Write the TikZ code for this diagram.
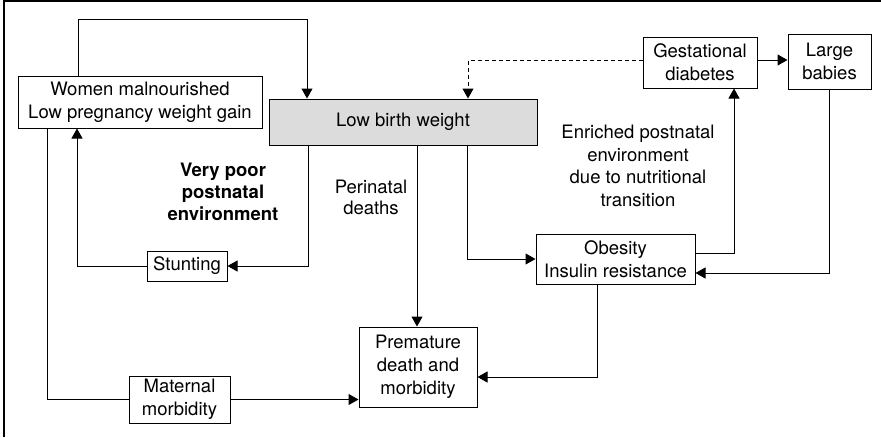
\documentclass[tikz,border=0pt]{standalone}
\usepackage{fontspec}
\setmainfont{TeX Gyre Heros}
\usetikzlibrary{arrows.meta}
\definecolor{lbwgray}{HTML}{DCDCDC}
\tikzset{
  txt/.style={align=center, font=\fontsize{18.5}{23}\selectfont},
  box/.style={txt, draw, inner sep=0pt},
  arr/.style={-{Triangle[length=10pt,width=11pt]}},
}
\begin{document}
\begin{tikzpicture}[x=1pt,y=-1pt,line width=1pt]
  \useasboundingbox (0,0) rectangle (881,437);
  % frame, top and left only
  \draw[line width=1.6pt] (4,437) -- (4,1) -- (881,1) ;
  % boxes
  \node[box,minimum width=244pt,minimum height=52pt] (women) at (140,102) {Women malnourished\\Low pregnancy weight gain};
  \node[box,fill=lbwgray,minimum width=268pt,minimum height=46pt] (lbw) at (403,122) {Low birth weight};
  \node[box,minimum width=114pt,minimum height=51pt] (gest) at (700,62.5) {Gestational\\diabetes};
  \node[box,minimum width=83pt,minimum height=55pt] (large) at (829.5,61.5) {Large\\babies};
  \node[box,minimum width=80pt,minimum height=30pt] (stunt) at (187,266) {Stunting};
  \node[box,minimum width=101pt,minimum height=47pt] (matern) at (179.5,399.5) {Maternal\\morbidity};
  \node[box,minimum width=118pt,minimum height=80pt] (prem) at (418,367) {Premature\\death and\\morbidity};
  \node[box,minimum width=159pt,minimum height=50pt] (obes) at (615.5,259) {Obesity\\Insulin resistance};
  % labels
  \node[txt,font=\fontsize{18.5}{22}\selectfont\bfseries] (poor) at (223,192) {Very poor\\postnatal\\environment};
  \node[txt,font=\fontsize{18.5}{21}\selectfont] (peri) at (371,197) {Perinatal\\deaths};
  \node[txt,font=\fontsize{18.5}{22.5}\selectfont] (rich) at (638,166) {Enriched postnatal\\environment\\due to nutritional\\transition};
  % connectors
  \draw[arr] (78,0 |- women.north) |- (307,19) -- (307,0 |- lbw.north) ;
  \draw (47,0 |- women.south) |- (matern.west) ;
  \draw[arr] (matern.east) -- (prem.west |- matern.east) ;
  \draw[arr] (stunt.west) -| (77,0 |- women.south) ;
  \draw[arr] (308,0 |- lbw.south) |- (stunt.east) ;
  \draw[arr] (417,0 |- lbw.south) -- (417,0 |- prem.north) ;
  \draw[arr] (467,0 |- lbw.south) |- (obes.west) ;
  \draw[arr] (obes.east |- 0,253) -| (734,0 |- gest.south) ;
  \draw[arr] (829,0 |- large.south) |- (obes.east |- 0,273) ;
  \draw[arr] (597,0 |- obes.south) |- (prem.east |- 0,377) ;
  \draw[arr,dash pattern=on 4pt off 3pt] (gest.west |- 0,60) -| (468,0 |- lbw.north) ;
  \draw[arr] (gest.east |- 0,60) -- (large.west |- 0,60) ;
\end{tikzpicture}
\end{document}
